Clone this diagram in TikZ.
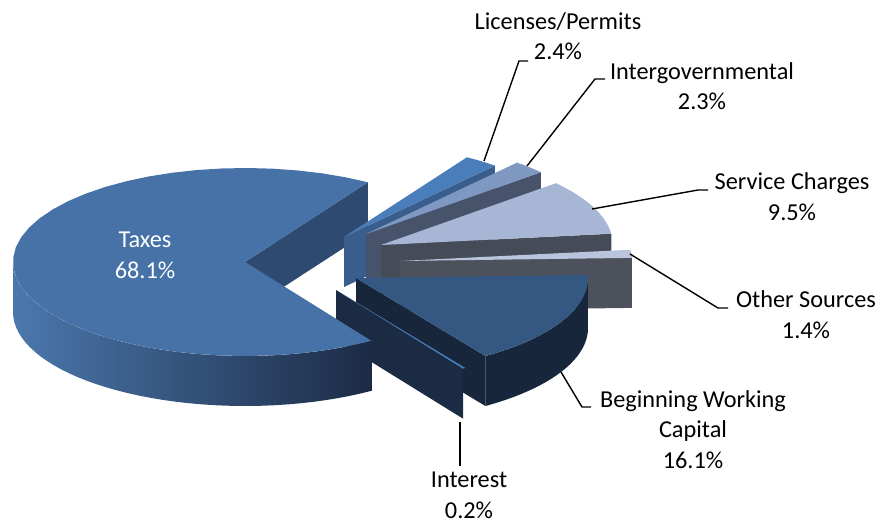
\documentclass[tikz,border=0pt]{standalone}
\usepackage{fontspec}
\setmainfont{Carlito}
\usetikzlibrary{positioning}
\definecolor{taxtop}{HTML}{4672A8}
\definecolor{taxwall}{HTML}{2E4A70}
\definecolor{taxrimL}{HTML}{4B78AD}
\definecolor{taxrimR}{HTML}{1C2B45}
\definecolor{lictop}{HTML}{4A7EBB}
\definecolor{licwall}{HTML}{395E8E}
\definecolor{govtop}{HTML}{7F98C2}
\definecolor{govwall}{HTML}{46536B}
\definecolor{sertop}{HTML}{A6B6D4}
\definecolor{serwall}{HTML}{464B58}
\definecolor{othtop}{HTML}{B9C5DC}
\definecolor{othwall}{HTML}{4D515B}
\definecolor{bwctop}{HTML}{345882}
\definecolor{bwcwall}{HTML}{17263A}
\definecolor{intwall}{HTML}{1B2B43}
% pie radii and thickness (px)
\newcommand{\pieA}{232}
\newcommand{\pieB}{94}
\newcommand{\pieH}{50}
\newcommand{\slicetop}[3]{\fill[#3] (0,0) -- plot[domain=#1:#2,samples=40] ({\pieA*cos(\x)},{-\pieB*sin(\x)}) -- cycle;}
\newcommand{\slicewall}[2]{\fill[#2] (0,0) -- ({\pieA*cos(#1)},{-\pieB*sin(#1)}) -- ({\pieA*cos(#1)},{\pieH-\pieB*sin(#1)}) -- (0,\pieH) -- cycle;}
\newcommand{\slicerim}[3]{\path[#3] plot[domain=#1:#2,samples=40] ({\pieA*cos(\x)},{-\pieB*sin(\x)}) -- plot[domain=#2:#1,samples=40] ({\pieA*cos(\x)},{\pieH-\pieB*sin(\x)}) -- cycle;}
\begin{document}
\begin{tikzpicture}[x=1pt,y=-1pt,
  leader/.style={draw=black,line width=1.4pt},
  lbl/.style={align=center,inner sep=0pt,anchor=base,font=\fontsize{24.3}{30.5}\selectfont}]
\useasboundingbox (0,0) rectangle (891,524);
% taxes, wall behind the gap
\begin{scope}[shift={(245,262)}]
\slicewall{58}{taxwall}
\end{scope}
% licenses/permits
\begin{scope}[shift={(344,237)}]
\slicewall{49.4}{licwall}
\slicetop{49.4}{58}{lictop}
\end{scope}
% intergovernmental
\begin{scope}[shift={(366,234)}]
\slicewall{41.1}{govwall}
\slicetop{41.1}{49.4}{govtop}
\end{scope}
% service charges
\begin{scope}[shift={(381,245)}]
\slicewall{6.9}{serwall}
\slicetop{6.9}{41.1}{sertop}
\end{scope}
% other sources
\begin{scope}[shift={(400,261)}]
\slicewall{1.9}{othwall}
\slicetop{1.9}{6.9}{othtop}
\end{scope}
% beginning working capital
\begin{scope}[shift={(356,278)}]
\slicewall{-56.1}{bwcwall}
\slicerim{-56.1}{1.9}{fill=bwcwall}
\slicetop{-56.1}{1.9}{bwctop}
\end{scope}
% interest
\begin{scope}[shift={(336,290)}]
\slicewall{-56.8}{intwall}
\slicetop{-56.8}{-56.1}{lictop}
\end{scope}
% taxes
\begin{scope}[shift={(245,262)}]
\slicerim{180}{303}{left color=taxrimL,right color=taxrimR}
\slicetop{58}{303}{taxtop}
\end{scope}

% labels (base = last line)
\node[lbl,text=white] (taxes) at (145,278) {Taxes\\68.1\%};
\node[lbl] (lic) at (558,60) {Licenses/Permits\\2.4\%};
\node[lbl] (gov) at (702,110) {Intergovernmental\\2.3\%};
\node[lbl] (ser) at (792,220) {Service Charges\\9.5\%};
\node[lbl] (oth) at (806,338) {Other Sources\\1.4\%};
\node[lbl] (bwc) at (693,468) {Beginning Working\\Capital\\16.1\%};
\node[lbl] (int) at (469,518) {Interest\\0.2\%};

% leader lines
\coordinate (licA) at (484,161);
\coordinate (licB) at (519,61);
\coordinate (licC) at (528,61);
\coordinate (govA) at (527,166);
\coordinate (govB) at (595,79);
\coordinate (govC) at (605,79);
\coordinate (serA) at (592,209);
\coordinate (serB) at (698,190);
\coordinate (serC) at (708,190);
\coordinate (othA) at (630,254);
\coordinate (othB) at (718,308);
\coordinate (othC) at (728,308);
\coordinate (bwcA) at (561,372);
\coordinate (bwcB) at (582,407);
\coordinate (bwcC) at (591,407);
\coordinate (intA) at (460,422);
\coordinate (intB) at (460,466);
\draw[leader] (licA) -- (licB) -- (licC);
\draw[leader] (govA) -- (govB) -- (govC);
\draw[leader] (serA) -- (serB) -- (serC);
\draw[leader] (othA) -- (othB) -- (othC);
\draw[leader] (bwcA) -- (bwcB) -- (bwcC);
\draw[leader] (intA) -- (intB);
\end{tikzpicture}
\end{document}
